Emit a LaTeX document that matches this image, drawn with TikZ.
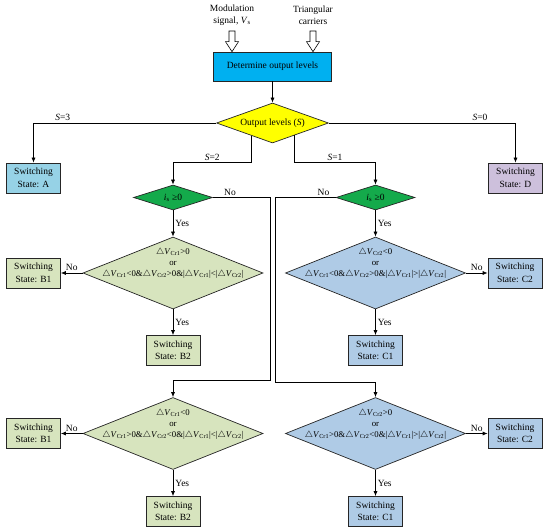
\documentclass[tikz,border=0pt]{standalone}
\usepackage{fontspec}
\setmainfont{Liberation Serif}
\usetikzlibrary{shapes.geometric,positioning,calc,arrows.meta}

\definecolor{detblue}{RGB}{0,176,240}
\definecolor{levyellow}{RGB}{255,255,0}
\definecolor{stateA}{RGB}{150,210,230}
\definecolor{stateD}{RGB}{205,192,220}
\definecolor{isgreen}{RGB}{20,170,75}
\definecolor{bgreen}{RGB}{215,228,190}
\definecolor{cblue}{RGB}{175,203,230}

\tikzset{
	base/.style={draw=black!85, line width=0.7pt, font=\fontsize{9.5}{12.5}\selectfont, align=center, inner sep=0pt},
	swbox/.style={base, rectangle, minimum width=54pt, minimum height=30pt},
	dia/.style={base, diamond, aspect=2.5},
	isdia/.style={dia, fill=isgreen, minimum width=79pt, minimum height=25pt},
	bigdia/.style={dia, minimum width=180pt, minimum height=72pt},
	txt/.style={font=\fontsize{9.5}{12}\selectfont, align=center, inner sep=0pt},
	lbl/.style={font=\fontsize{9.5}{11}\selectfont, inner sep=2pt},
	conn/.style={line width=0.7pt, -{Latex[length=5pt,width=4pt]}},
}

% condition text, centred on the diamond without changing its size
\newcommand{\dtxt}[1]{\makebox[0pt]{\smash{\raisebox{-4pt}{\fontsize{8.8}{11}\selectfont\begin{tabular}[b]{@{}c@{}}#1\end{tabular}}}}}
\newcommand{\dV}[1]{$\triangle$\textit{V}\textsubscript{Cr#1}}
\newcommand{\hollowarrow}[2]{%
	\draw[line width=0.6pt, fill=white] ($(#1)+(-3,0)$) -- ($(#2)+(-3,-10)$) -- ($(#2)+(-6.5,-10)$) -- (#2)
	-- ($(#2)+(6.5,-10)$) -- ($(#2)+(3,-10)$) -- ($(#1)+(3,0)$) -- cycle;}

\begin{document}
\begin{tikzpicture}[x=1pt,y=-1pt,on grid]
	\useasboundingbox (0,0) rectangle (550,532);
	\node[txt] (mod) at (232,15) {Modulation\\signal, \textit{V}\textsubscript{s}};
	\node[txt] (tri) at (313,15) {Triangular\\carriers};
	\node[swbox, fill=detblue, minimum width=118pt, minimum height=29pt] (det) at (272.5,66.5) {Determine output levels};
	\node[dia, fill=levyellow, minimum width=112pt, minimum height=40pt] (lev) [below=56.5pt of det] {Output levels (\textit{S})};
	\node[swbox, fill=stateA] (A) [below left=55pt and 239pt of lev] {Switching\\State: A};
	\node[swbox, fill=stateD] (D) [below right=55pt and 243pt of lev] {Switching\\State: D};
	\node[isdia] (isL) [below left=74.5pt and 99.5pt of lev] {\textit{i}\textsubscript{s} ≥0};
	\node[isdia] (isR) [below right=74.5pt and 103pt of lev] {\textit{i}\textsubscript{s} ≥0};
	% left half, i_s >= 0
	\node[bigdia, fill=bgreen] (cB1) [below=75.5pt of isL] {\dtxt{\dV{1}>0\\or\\\dV{1}<0\&\dV{2}>0\&|\dV{1}|<|\dV{2}|}};
	\node[swbox, fill=bgreen] (B1a) [left=139.5pt of cB1] {Switching\\State: B1};
	\node[swbox, fill=bgreen] (B2a) [below=77.5pt of cB1] {Switching\\State: B2};
	\node[bigdia, fill=bgreen] (cB2) [below=160.5pt of cB1] {\dtxt{\dV{1}<0\\or\\\dV{1}>0\&\dV{2}<0\&|\dV{1}|<|\dV{2}|}};
	\node[swbox, fill=bgreen] (B1b) [left=139.5pt of cB2] {Switching\\State: B1};
	\node[swbox, fill=bgreen] (B2b) [below=78pt of cB2] {Switching\\State: B2};
	% right half
	\node[bigdia, fill=cblue] (cC1) [below=75.5pt of isR] {\dtxt{\dV{2}<0\\or\\\dV{1}<0\&\dV{2}>0\&|\dV{1}|>|\dV{2}|}};
	\node[swbox, fill=cblue] (C2a) [right=139.5pt of cC1] {Switching\\State: C2};
	\node[swbox, fill=cblue] (C1a) [below=77.5pt of cC1] {Switching\\State: C1};
	\node[bigdia, fill=cblue] (cC2) [below=160.5pt of cC1] {\dtxt{\dV{2}>0\\or\\\dV{1}>0\&\dV{2}<0\&|\dV{1}|>|\dV{2}|}};
	\node[swbox, fill=cblue] (C2b) [right=139.5pt of cC2] {Switching\\State: C2};
	\node[swbox, fill=cblue] (C1b) [below=78pt of cC2] {Switching\\State: C1};

	\coordinate (modtop) at (232,31);
	\coordinate (modtip) at (modtop |- det.north);
	\coordinate (tritop) at (313,31);
	\coordinate (tritip) at (tritop |- det.north);
	\hollowarrow{modtop}{modtip}
	\hollowarrow{tritop}{tritip}

	\coordinate (lev2) at ($(lev.west)!0.625!(lev.south)$);
	\coordinate (lev1) at ($(lev.south)!0.39!(lev.east)$);
	\coordinate (nL) at (270,380);
	\coordinate (nR) at (275,382);
	\draw[conn] (det) -- (lev);
	\draw[conn] (lev.west) -| node[lbl, above, pos=0.42] {\textit{S}=3} (A);
	\draw[conn] (lev.east) -| node[lbl, above, pos=0.405] {\textit{S}=0} (D);
	\draw[conn] (lev2) -- (lev2 |- A.north) -| node[lbl, above, pos=0.25] {\textit{S}=2} (isL);
	\draw[conn] (lev1) -- (lev1 |- D.north) -| node[lbl, above, pos=0.25] {\textit{S}=1} (isR);
	\draw[conn] (isL) -- node[lbl, right] {Yes} (cB1);
	\draw[conn] (isR) -- node[lbl, right] {Yes} (cC1);
	\draw[conn] (isL.east) -| node[lbl, above, pos=0.15] {No} (nL) -| (cB2);
	\draw[conn] (isR.west) -| node[lbl, above, pos=0.1] {No} (nR) -| (cC2);
	\draw[conn] (cB1) -- node[lbl, above] {No} (B1a);
	\draw[conn] (cB1) -- node[lbl, right] {Yes} (B2a);
	\draw[conn] (cB2) -- node[lbl, above] {No} (B1b);
	\draw[conn] (cB2) -- node[lbl, right] {Yes} (B2b);
	\draw[conn] (cC1) -- node[lbl, above] {No} (C2a);
	\draw[conn] (cC1) -- node[lbl, right] {Yes} (C1a);
	\draw[conn] (cC2) -- node[lbl, above] {No} (C2b);
	\draw[conn] (cC2) -- node[lbl, right] {Yes} (C1b);
\end{tikzpicture}
\end{document}
